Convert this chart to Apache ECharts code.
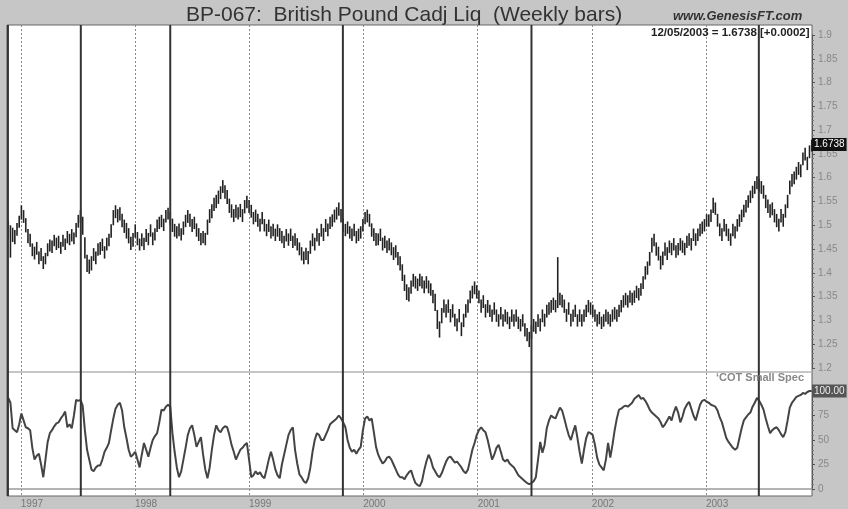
<!DOCTYPE html>
<html>
<head>
<meta charset="utf-8">
<title>BP-067 British Pound Cadj Liq</title>
<script src="https://cdn.jsdelivr.net/npm/echarts@6/dist/echarts.min.js"></script>
<style>
    html, body { margin: 0; padding: 0; background: #c6c6c6; }
    #chart { width: 848px; height: 509px; }
</style>
</head>
<body>
<div id="chart"></div>
<script>
// weekly bars, the last one closes 12/05/2003
const lastWeek = [2003, 11, 5];
const lastClose = 1.6738;
const lastCot = 100.0;

const weekHigh = [
    1.510, 1.500, 1.495, 1.490, 1.505, 1.520, 1.542, 1.532, 1.515, 1.492,
    1.482, 1.462, 1.455, 1.465, 1.445, 1.452, 1.435, 1.442, 1.462, 1.470,
    1.468, 1.480, 1.474, 1.478, 1.465, 1.480, 1.472, 1.488, 1.482, 1.492,
    1.485, 1.505, 1.522, 1.532, 1.518, 1.475, 1.438, 1.428, 1.435, 1.452,
    1.445, 1.462, 1.465, 1.472, 1.456, 1.474, 1.482, 1.502, 1.532, 1.542,
    1.534, 1.538, 1.524, 1.512, 1.505, 1.494, 1.476, 1.484, 1.502, 1.486,
    1.472, 1.483, 1.474, 1.492, 1.484, 1.502, 1.485, 1.494, 1.512, 1.518,
    1.522, 1.514, 1.532, 1.537, 1.528, 1.514, 1.503, 1.498, 1.504, 1.494,
    1.508, 1.522, 1.532, 1.524, 1.513, 1.518, 1.504, 1.494, 1.484, 1.488,
    1.484, 1.512, 1.534, 1.544, 1.558, 1.564, 1.573, 1.582, 1.595, 1.584,
    1.574, 1.556, 1.544, 1.534, 1.543, 1.538, 1.545, 1.534, 1.553, 1.562,
    1.553, 1.543, 1.528, 1.533, 1.524, 1.514, 1.528, 1.513, 1.503, 1.512,
    1.498, 1.503, 1.493, 1.502, 1.494, 1.488, 1.478, 1.492, 1.483, 1.493,
    1.478, 1.483, 1.473, 1.464, 1.454, 1.445, 1.453, 1.446, 1.468, 1.483,
    1.474, 1.493, 1.484, 1.503, 1.494, 1.513, 1.504, 1.518, 1.523, 1.533,
    1.538, 1.548, 1.534, 1.514, 1.503, 1.508, 1.498, 1.493, 1.503, 1.488,
    1.493, 1.498, 1.513, 1.528, 1.533, 1.524, 1.504, 1.494, 1.484, 1.483,
    1.493, 1.474, 1.478, 1.468, 1.473, 1.464, 1.454, 1.458, 1.444, 1.435,
    1.418, 1.396, 1.376, 1.370, 1.384, 1.398, 1.393, 1.388, 1.398, 1.393,
    1.384, 1.393, 1.384, 1.378, 1.364, 1.356, 1.322, 1.298, 1.326, 1.344,
    1.334, 1.344, 1.324, 1.334, 1.314, 1.304, 1.324, 1.296, 1.314, 1.334,
    1.344, 1.363, 1.373, 1.382, 1.374, 1.363, 1.344, 1.353, 1.334, 1.343,
    1.333, 1.323, 1.338, 1.323, 1.313, 1.328, 1.313, 1.323, 1.318, 1.308,
    1.323, 1.313, 1.323, 1.308, 1.303, 1.313, 1.294, 1.284, 1.276, 1.289,
    1.303, 1.298, 1.313, 1.304, 1.323, 1.314, 1.333, 1.338, 1.343, 1.348,
    1.343, 1.433, 1.358, 1.354, 1.344, 1.324, 1.338, 1.314, 1.323, 1.333,
    1.313, 1.323, 1.313, 1.323, 1.333, 1.343, 1.338, 1.333, 1.323, 1.313,
    1.318, 1.308, 1.313, 1.323, 1.318, 1.313, 1.323, 1.328, 1.323, 1.333,
    1.343, 1.353, 1.358, 1.353, 1.363, 1.358, 1.363, 1.373, 1.368, 1.378,
    1.393, 1.414, 1.424, 1.444, 1.474, 1.482, 1.464, 1.455, 1.436, 1.445,
    1.464, 1.454, 1.468, 1.463, 1.473, 1.458, 1.463, 1.473, 1.468, 1.463,
    1.478, 1.483, 1.473, 1.493, 1.483, 1.493, 1.503, 1.508, 1.513, 1.523,
    1.523, 1.533, 1.558, 1.548, 1.524, 1.504, 1.494, 1.513, 1.503, 1.493,
    1.483, 1.503, 1.498, 1.513, 1.523, 1.533, 1.543, 1.553, 1.563, 1.573,
    1.583, 1.593, 1.603, 1.598, 1.593, 1.584, 1.564, 1.554, 1.544, 1.548,
    1.534, 1.524, 1.514, 1.534, 1.524, 1.544, 1.564, 1.594, 1.608, 1.613,
    1.623, 1.633, 1.628, 1.653, 1.663, 1.644, 1.668, 1.680
];

const weekLow = [
    1.470, 1.432, 1.465, 1.460, 1.478, 1.495, 1.512, 1.505, 1.485, 1.462,
    1.455, 1.435, 1.428, 1.438, 1.418, 1.425, 1.408, 1.418, 1.435, 1.445,
    1.442, 1.456, 1.448, 1.452, 1.440, 1.455, 1.448, 1.462, 1.458, 1.466,
    1.460, 1.475, 1.495, 1.505, 1.480, 1.430, 1.402, 1.398, 1.405, 1.425,
    1.418, 1.436, 1.438, 1.446, 1.430, 1.447, 1.456, 1.474, 1.500, 1.515,
    1.506, 1.510, 1.496, 1.484, 1.472, 1.462, 1.448, 1.455, 1.474, 1.458,
    1.447, 1.456, 1.448, 1.465, 1.458, 1.476, 1.458, 1.468, 1.486, 1.492,
    1.496, 1.488, 1.506, 1.512, 1.500, 1.486, 1.476, 1.472, 1.477, 1.468,
    1.480, 1.496, 1.505, 1.497, 1.486, 1.492, 1.476, 1.467, 1.458, 1.462,
    1.458, 1.480, 1.505, 1.515, 1.530, 1.536, 1.545, 1.555, 1.568, 1.556,
    1.545, 1.526, 1.516, 1.507, 1.516, 1.512, 1.517, 1.507, 1.525, 1.536,
    1.526, 1.516, 1.502, 1.507, 1.497, 1.487, 1.502, 1.487, 1.477, 1.486,
    1.472, 1.477, 1.467, 1.476, 1.467, 1.462, 1.452, 1.466, 1.457, 1.467,
    1.452, 1.457, 1.447, 1.437, 1.426, 1.418, 1.427, 1.418, 1.440, 1.456,
    1.447, 1.466, 1.457, 1.476, 1.467, 1.486, 1.477, 1.492, 1.497, 1.506,
    1.512, 1.520, 1.506, 1.486, 1.477, 1.482, 1.472, 1.467, 1.477, 1.462,
    1.467, 1.472, 1.487, 1.502, 1.506, 1.497, 1.476, 1.467, 1.457, 1.458,
    1.467, 1.447, 1.452, 1.442, 1.447, 1.437, 1.427, 1.432, 1.416, 1.405,
    1.383, 1.362, 1.343, 1.340, 1.356, 1.371, 1.367, 1.362, 1.372, 1.367,
    1.357, 1.367, 1.357, 1.352, 1.336, 1.320, 1.282, 1.264, 1.294, 1.316,
    1.306, 1.316, 1.296, 1.306, 1.287, 1.277, 1.296, 1.267, 1.286, 1.306,
    1.316, 1.336, 1.346, 1.355, 1.346, 1.336, 1.316, 1.326, 1.306, 1.316,
    1.307, 1.297, 1.312, 1.297, 1.287, 1.302, 1.287, 1.297, 1.292, 1.282,
    1.297, 1.287, 1.297, 1.282, 1.277, 1.287, 1.266, 1.256, 1.244, 1.261,
    1.276, 1.272, 1.286, 1.277, 1.296, 1.287, 1.306, 1.312, 1.316, 1.322,
    1.317, 1.326, 1.332, 1.327, 1.316, 1.297, 1.312, 1.287, 1.297, 1.307,
    1.287, 1.297, 1.287, 1.297, 1.307, 1.317, 1.312, 1.307, 1.297, 1.287,
    1.292, 1.282, 1.287, 1.297, 1.292, 1.287, 1.297, 1.302, 1.297, 1.307,
    1.317, 1.327, 1.332, 1.327, 1.337, 1.332, 1.337, 1.347, 1.342, 1.352,
    1.366, 1.386, 1.396, 1.415, 1.443, 1.456, 1.436, 1.426, 1.407, 1.416,
    1.436, 1.427, 1.442, 1.437, 1.447, 1.432, 1.437, 1.447, 1.442, 1.437,
    1.452, 1.457, 1.447, 1.467, 1.457, 1.467, 1.477, 1.482, 1.487, 1.497,
    1.497, 1.507, 1.526, 1.522, 1.497, 1.477, 1.467, 1.487, 1.477, 1.467,
    1.457, 1.477, 1.472, 1.487, 1.497, 1.507, 1.517, 1.527, 1.537, 1.547,
    1.557, 1.566, 1.576, 1.571, 1.566, 1.556, 1.536, 1.526, 1.516, 1.521,
    1.506, 1.496, 1.487, 1.506, 1.497, 1.516, 1.536, 1.565, 1.581, 1.586,
    1.596, 1.606, 1.601, 1.626, 1.636, 1.616, 1.641, 1.655
];

// COT small speculators index (0-100)
const cotSmallSpec = [
    93, 88, 62, 60, 58, 66, 77, 70, 63, 62,
    60, 42, 30, 34, 36, 25, 12, 30, 48, 57,
    60, 64, 67, 68, 72, 75, 79, 63, 66, 62,
    75, 91, 90, 91, 85, 60, 40, 30, 20, 18,
    22, 24, 24, 30, 38, 42, 47, 60, 72, 82,
    86, 88, 80, 63, 52, 40, 33, 35, 38, 30,
    22, 35, 47, 40, 33, 42, 50, 54, 57, 68,
    81, 80, 84, 86, 84, 57, 38, 22, 12, 18,
    30, 42, 55, 62, 65, 55, 43, 48, 53, 35,
    20, 11, 22, 40, 55, 65, 60, 58, 62, 64,
    63, 55, 45, 38, 30, 35, 40, 42, 45, 47,
    30, 12, 14, 18, 15, 17, 13, 11, 20, 30,
    38, 30, 20, 14, 11, 25, 35, 45, 55, 60,
    63, 40, 26, 15, 12, 8, 6, 11, 22, 38,
    50, 57, 55, 50, 50, 55, 60, 66, 68, 70,
    72, 75, 72, 68, 63, 50, 42, 38, 40, 36,
    40, 43, 60, 72, 74, 70, 72, 58, 43, 35,
    30, 26, 28, 32, 33, 30, 25, 20, 15, 12,
    12, 10, 14, 17, 19, 12, 6, 4, 3, 8,
    19, 28, 35, 30, 22, 18, 14, 12, 16, 22,
    28, 32, 33, 30, 27, 28, 25, 22, 18, 16,
    20, 30, 40, 47, 55, 60, 63, 60, 58, 50,
    40, 30, 35, 42, 45, 38, 30, 28, 30, 26,
    24, 22, 18, 14, 12, 10, 8, 6, 5, 6,
    8, 12, 30, 48, 37, 45, 62, 70, 75, 73,
    72, 78, 83, 80, 72, 63, 55, 50, 58, 65,
    52, 38, 26, 40, 52, 58, 57, 55, 45, 32,
    25, 22, 19, 30, 47, 32, 45, 60, 72, 81,
    82, 84, 85, 84, 86, 88, 92, 94, 96, 92,
    93, 90, 86, 81, 78, 76, 74, 72, 68, 63,
    66, 70, 74, 70, 78, 84, 78, 68, 74, 82,
    86, 89, 82, 75, 70, 78, 86, 90, 91, 89,
    88, 86, 85, 84, 80, 73, 68, 60, 52, 48,
    45, 42, 40, 42, 52, 62, 70, 73, 76, 78,
    84, 88, 93, 90, 86, 81, 72, 64, 57, 60,
    62, 63, 60, 56, 53, 58, 70, 83, 88, 91,
    94, 95, 96, 98, 97, 99, 100, 100
];

// heavy vertical markers
const eventDates = ['1996/11/21', '1997/07/12', '1998/04/24', '1999/10/28', '2001/06/22', '2003/06/19'];

const DAY = 86400000;
const xMin = new Date(1996, 10, 18).getTime();
const xMax = new Date(2003, 11, 6).getTime();
const lastTime = new Date(lastWeek[0], lastWeek[1], lastWeek[2]).getTime();

const n = weekHigh.length;
let weeks = [];
for (let i = 0; i < n; i++) {
    weeks.push(lastTime - (n - 1 - i) * 7 * DAY);
}
let barData = weeks.map((t, i) => [t, weekLow[i], weekHigh[i]]);
let cotData = weeks.map((t, i) => [t, cotSmallSpec[i]]);

const font = 'Liberation Sans, Arial, sans-serif';
const frame = {left: 7, right: 36};

let hiddenTime = {type: 'time', min: xMin, max: xMax, show: false};

// value tag at the right edge of a panel
function tag (value, text, bg, fg) {
    return {
        silent: true,
        symbol: 'none',
        lineStyle: {color: 'rgba(0,0,0,0)', width: 0},
        label: {
            show: true,
            position: 'end',
            distance: 0,
            formatter: text,
            backgroundColor: bg,
            color: fg,
            fontSize: 10,
            fontFamily: font,
            padding: [2, 2, 1, 2]
        },
        data: [{yAxis: value}]
    };
}

let myChart = echarts.init(document.getElementById('chart'));
myChart.setOption({
    animation: false,
    backgroundColor: '#c6c6c6',
    textStyle: {fontFamily: font},
    title: [
        {
            text: 'BP-067:  British Pound Cadj Liq  (Weekly bars)',
            left: 186,
            top: 5,
            padding: 0,
            textStyle: {fontSize: 21, fontWeight: 'normal', color: '#333', fontFamily: font}
        },
        {
            text: 'www.GenesisFT.com',
            left: 673,
            top: 10,
            padding: 0,
            textStyle: {fontSize: 13, fontWeight: 'bold', fontStyle: 'italic', color: '#333', fontFamily: font}
        },
        {
            text: '12/05/2003 = 1.6738 [+0.0002]',
            left: 651,
            top: 27,
            padding: 0,
            z: 10,
            textStyle: {fontSize: 11.5, fontWeight: 'bold', color: '#222', fontFamily: font}
        },
        {
            text: '\u2018COT Small Spec',
            left: 716,
            top: 372,
            padding: 0,
            textStyle: {fontSize: 11, fontWeight: 'bold', color: '#888', fontFamily: font}
        }
    ],
    grid: [
        // whole plot area
        {left: frame.left, right: frame.right, top: 25, bottom: 10, show: true,
            backgroundColor: '#fff', borderColor: '#666', borderWidth: 1},
        // divider between the panels
        {left: frame.left, right: frame.right, top: 372, height: 0, show: true,
            backgroundColor: 'transparent', borderColor: '#b4b4b4', borderWidth: 1.5},
        // COT panel
        {left: frame.left, right: frame.right, top: 391, height: 98},
        // price panel
        {left: frame.left, right: frame.right, top: 35, height: 333}
    ],
    xAxis: [
        {
            type: 'time',
            gridIndex: 0,
            min: xMin,
            max: xMax,
            splitNumber: 7,
            axisLine: {show: false},
            axisTick: {show: false},
            axisLabel: {
                margin: 3,
                align: 'left',
                fontSize: 10,
                color: '#777',
                showMinLabel: false,
                showMaxLabel: false,
                formatter: (v) => String(new Date(v).getFullYear())
            },
            splitLine: {show: true, lineStyle: {color: '#8a8a8a', type: [2, 2], width: 1}}
        },
        Object.assign({gridIndex: 1}, hiddenTime),
        {
            type: 'time',
            gridIndex: 2,
            min: xMin,
            max: xMax,
            axisLine: {show: true, lineStyle: {color: '#9a9a9a', width: 1.5}},
            axisTick: {show: false},
            axisLabel: {show: false},
            splitLine: {show: false}
        },
        Object.assign({gridIndex: 3}, hiddenTime)
    ],
    yAxis: [
        {type: 'value', gridIndex: 0, min: 0, max: 1, show: false},
        {type: 'value', gridIndex: 1, min: 0, max: 1, show: false},
        {
            type: 'value',
            gridIndex: 2,
            position: 'right',
            min: 0,
            max: 100,
            interval: 25,
            axisLine: {show: true, lineStyle: {color: '#555'}},
            axisTick: {show: true, length: 3, lineStyle: {color: '#555'}},
            minorTick: {show: true, splitNumber: 5, length: 2, lineStyle: {color: '#777'}},
            axisLabel: {margin: 6, fontSize: 10, color: '#888'},
            splitLine: {show: false}
        },
        {
            type: 'value',
            gridIndex: 3,
            position: 'right',
            min: 1.2,
            max: 1.9,
            interval: 0.05,
            axisLine: {show: true, lineStyle: {color: '#555'}},
            axisTick: {show: true, length: 3, lineStyle: {color: '#555'}},
            minorTick: {show: true, splitNumber: 5, length: 2, lineStyle: {color: '#777'}},
            axisLabel: {margin: 6, fontSize: 10, color: '#888'},
            splitLine: {show: false}
        }
    ],
    series: [
        {
            // heavy vertical lines through both panels
            type: 'custom',
            xAxisIndex: 0,
            yAxisIndex: 0,
            silent: true,
            data: eventDates.map((d) => [new Date(d).getTime()]),
            renderItem: (params, api) => {
                let top = api.coord([api.value(0), 1]);
                let bottom = api.coord([api.value(0), 0]);
                return {
                    type: 'line',
                    shape: {x1: top[0], y1: top[1], x2: bottom[0], y2: bottom[1]},
                    style: {stroke: '#333', lineWidth: 2}
                };
            },
            z: 5
        },
        {
            // weekly high-low bars
            type: 'custom',
            name: 'BP-067',
            xAxisIndex: 3,
            yAxisIndex: 3,
            dimensions: ['week', 'low', 'high'],
            encode: {x: 0, y: [1, 2]},
            data: barData,
            renderItem: (params, api) => {
                let lo = api.coord([api.value(0), api.value(1)]);
                let hi = api.coord([api.value(0), api.value(2)]);
                return {
                    type: 'line',
                    shape: {x1: lo[0], y1: lo[1], x2: hi[0], y2: hi[1]},
                    style: {stroke: '#222', lineWidth: 1.6}
                };
            },
            markLine: tag(lastClose, lastClose.toFixed(4), '#111', '#fff'),
            z: 3
        },
        {
            type: 'line',
            name: 'COT Small Spec',
            xAxisIndex: 2,
            yAxisIndex: 2,
            data: cotData,
            showSymbol: false,
            lineStyle: {color: '#444', width: 2},
            markLine: tag(lastCot, lastCot.toFixed(2), '#555', '#eee'),
            z: 3
        }
    ]
});
</script>
</body>
</html>
